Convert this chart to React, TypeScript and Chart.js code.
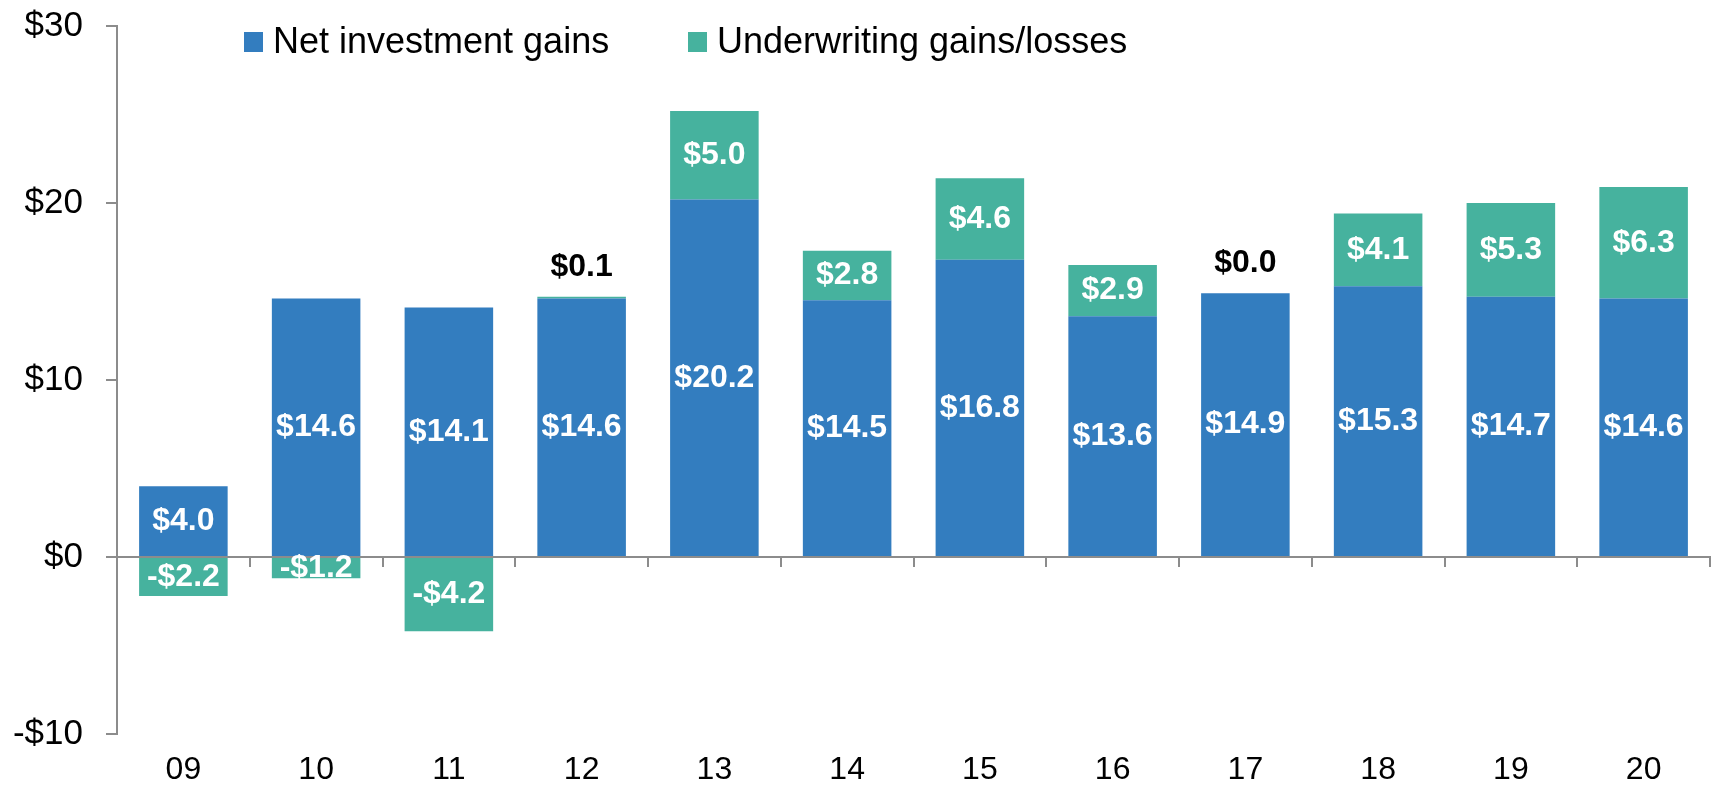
import React, { useEffect, useRef } from "react";
import { Chart, registerables } from "chart.js";

Chart.register(...registerables);

const categories = ["09", "10", "11", "12", "13", "14", "15", "16", "17", "18", "19", "20"];
const netInvestment = [4.0, 14.6, 14.1, 14.6, 20.2, 14.5, 16.8, 13.6, 14.9, 15.3, 14.7, 14.6];
const underwriting = [-2.2, -1.2, -4.2, 0.1, 5.0, 2.8, 4.6, 2.9, 0.0, 4.1, 5.3, 6.3];
const seriesNames = ["Net investment gains", "Underwriting gains/losses"];
const yTicks = [-10, 0, 10, 20, 30];

const BLUE = "#337dbf";
const GREEN = "#46b29e";
const AXIS = "#8c8c8c";
const FONT = '"Liberation Sans", Arial, sans-serif';
const LEGEND_X = [244, 688];

const fmt = (v: number) => (v < 0 ? "-$" : "$") + Math.abs(v).toFixed(1);

const labelPlugin = {
  id: "valueLabels",
  afterDatasetsDraw(chart: any) {
    const ctx = chart.ctx;
    ctx.save();
    ctx.textAlign = "center";
    ctx.textBaseline = "middle";
    ctx.font = `bold 32px ${FONT}`;
    chart.data.datasets.forEach((ds: any, di: number) => {
      const meta = chart.getDatasetMeta(di);
      meta.data.forEach((el: any, i: number) => {
        const v = ds.data[i];
        if (Math.abs(v) < 0.5) {
          ctx.fillStyle = "#000";
          ctx.fillText(fmt(v), el.x, Math.min(el.y, el.base) - 30);
        } else {
          ctx.fillStyle = "#fff";
          ctx.fillText(fmt(v), el.x, (el.y + el.base) / 2);
        }
      });
    });
    ctx.restore();
  },
};

const legendPlugin = {
  id: "customLegend",
  afterDraw(chart: any) {
    const ctx = chart.ctx;
    ctx.save();
    ctx.font = `36px ${FONT}`;
    ctx.textBaseline = "middle";
    ctx.textAlign = "left";
    const cy = 42;
    chart.data.datasets.forEach((ds: any, i: number) => {
      const x = LEGEND_X[i];
      ctx.fillStyle = ds.backgroundColor;
      ctx.fillRect(x, cy - 10, 19, 20);
      ctx.fillStyle = "#000";
      ctx.fillText(ds.label, x + 29, cy + 1);
    });
    ctx.restore();
  },
};

export default function App() {
  const ref = useRef<HTMLCanvasElement>(null);
  useEffect(() => {
    if (!ref.current) return;
    const chart = new Chart(ref.current, {
      type: "bar",
      data: {
        labels: categories,
        datasets: [
          { label: seriesNames[0], data: netInvestment, backgroundColor: BLUE },
          { label: seriesNames[1], data: underwriting, backgroundColor: GREEN },
        ],
      },
      options: {
        animation: false,
        responsive: false,
        devicePixelRatio: 1,
        layout: { padding: { top: 26, right: 3, left: 0, bottom: 0 } },
        datasets: { bar: { categoryPercentage: 1, barPercentage: 0.667 } },
        plugins: { legend: { display: false }, tooltip: { enabled: false } },
        scales: {
          x: {
            stacked: true,
            offset: true,
            grid: { display: false, drawTicks: false, offset: true },
            border: { display: false },
            ticks: { color: "#000", font: { family: FONT, size: 32 }, padding: 17, maxRotation: 0 },
            afterFit: (s: any) => { s.height = 53; s.paddingLeft = 0; s.paddingRight = 0; },
          },
          x2: {
            type: "category",
            axis: "x",
            position: { y: 0 } as any,
            offset: true,
            grid: { display: true, drawOnChartArea: false, drawTicks: true, tickLength: 9, color: AXIS, lineWidth: 2, offset: true },
            border: { display: true, color: AXIS, width: 2 },
            ticks: { display: false },
            afterFit: (s: any) => { s.height = 0; s.paddingLeft = 0; s.paddingRight = 0; s.paddingTop = 0; s.paddingBottom = 0; },
          },
          y: {
            stacked: true,
            min: -10,
            max: 30,
            afterBuildTicks: (s: any) => { s.ticks = yTicks.map((v) => ({ value: v })); },
            grid: { display: true, drawOnChartArea: false, drawTicks: true, tickLength: 11, color: AXIS, lineWidth: 2 },
            border: { display: true, color: AXIS, width: 2 },
            ticks: {
              color: "#000",
              font: { family: FONT, size: 35 },
              padding: 23,
              callback: (v: any) => (v < 0 ? "-$" : "$") + Math.abs(v),
            },
            afterFit: (s: any) => { s.width = 117; s.paddingTop = 0; s.paddingBottom = 0; },
          },
        },
      } as any,
      plugins: [labelPlugin, legendPlugin],
    });
    return () => chart.destroy();
  }, []);
  return (
    <div style={{ position: "absolute", left: 0, top: 0, width: 1713, height: 787, background: "#fff" }}>
      <canvas ref={ref} width={1713} height={787} style={{ display: "block" }} />
    </div>
  );
}
